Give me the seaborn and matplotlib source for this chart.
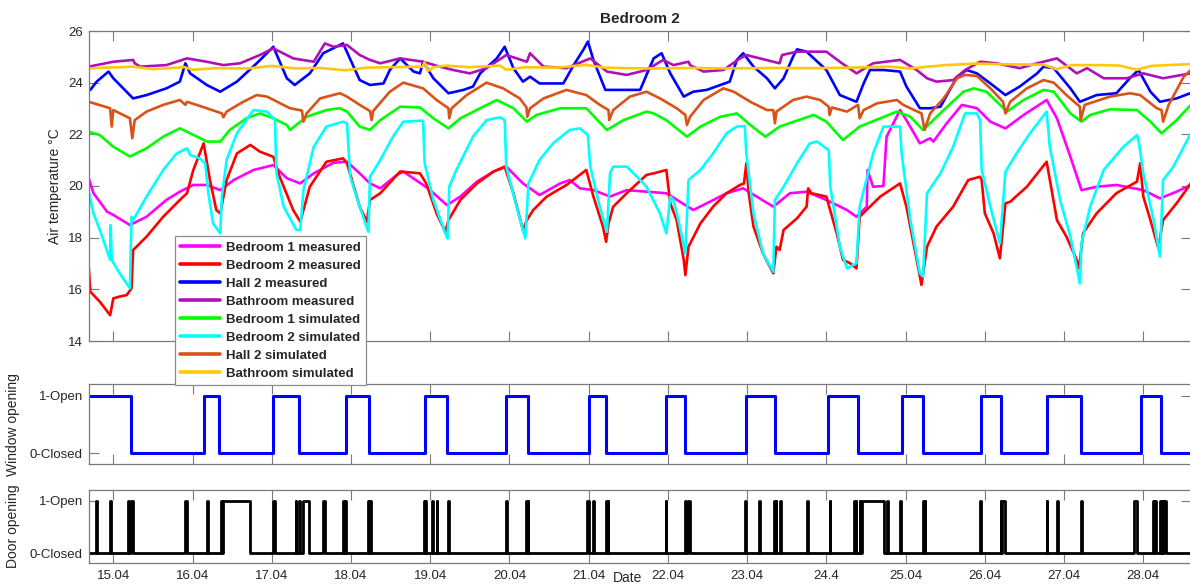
import matplotlib
matplotlib.use("Agg")
import matplotlib.pyplot as plt
import pandas as pd
import seaborn as sns

# ---------------------------------------------------------------------------
# Air temperatures, (day of April, deg C)
# ---------------------------------------------------------------------------
bedroom1_measured = [
    (14.69, 20.30), (14.75, 19.72), (14.92, 19.01), (15.00, 18.88), (15.21, 18.49),
    (15.42, 18.81), (15.67, 19.46), (15.84, 19.78), (16.01, 20.04), (16.18, 20.04),
    (16.35, 19.84), (16.52, 20.23), (16.77, 20.62), (17.02, 20.81), (17.19, 20.30),
    (17.36, 20.10), (17.53, 20.49), (17.78, 20.90), (17.95, 20.94), (18.11, 20.49),
    (18.24, 20.10), (18.37, 19.91), (18.58, 20.43), (18.66, 20.56), (18.91, 20.04),
    (19.00, 19.84), (19.21, 19.26), (19.38, 19.59), (19.59, 20.17), (19.80, 20.56),
    (19.96, 20.75), (20.17, 20.10), (20.38, 19.65), (20.64, 20.10), (20.76, 20.23),
    (20.89, 19.91), (21.06, 19.84), (21.27, 19.59), (21.48, 19.84), (21.73, 19.78),
    (21.98, 19.72), (22.32, 19.07), (22.49, 19.33), (22.74, 19.72), (22.95, 19.91),
    (23.12, 19.59), (23.33, 19.20), (23.54, 19.72), (23.75, 19.78), (24.00, 19.46),
    (24.26, 19.07), (24.38, 18.81), (24.51, 19.20), (24.52, 20.62), (24.59, 19.97),
    (24.72, 20.00), (24.76, 21.91), (24.93, 22.94), (25.01, 22.55), (25.18, 21.65),
    (25.31, 21.85), (25.35, 21.72), (25.52, 22.43), (25.71, 23.14), (25.90, 23.01),
    (26.07, 22.49), (26.26, 22.23), (26.49, 22.75), (26.78, 23.33), (26.91, 22.62),
    (27.08, 21.13), (27.22, 19.84), (27.41, 19.97), (27.66, 20.04), (28.00, 19.84),
    (28.21, 19.52), (28.42, 19.78), (28.60, 20.04),
]

bedroom2_measured = [
    (14.69, 16.88), (14.71, 15.91), (14.83, 15.52), (14.96, 15.00), (15.00, 15.65),
    (15.08, 15.72), (15.17, 15.78), (15.23, 16.04), (15.25, 17.52), (15.42, 18.04),
    (15.63, 18.81), (15.84, 19.46), (15.93, 19.72), (16.01, 20.62), (16.14, 21.65),
    (16.22, 20.23), (16.30, 19.07), (16.35, 18.94), (16.43, 20.23), (16.56, 21.26),
    (16.73, 21.59), (16.85, 21.33), (17.02, 21.13), (17.10, 20.36), (17.27, 19.07),
    (17.36, 18.62), (17.48, 19.97), (17.69, 20.94), (17.90, 21.07), (17.95, 20.88),
    (18.11, 19.20), (18.20, 18.62), (18.24, 19.46), (18.37, 19.72), (18.62, 20.56),
    (18.87, 20.49), (18.95, 20.10), (19.08, 18.94), (19.19, 18.23), (19.23, 18.68),
    (19.38, 19.46), (19.59, 20.10), (19.80, 20.56), (19.94, 20.75), (20.05, 19.72),
    (20.17, 18.30), (20.22, 18.68), (20.30, 19.07), (20.47, 19.59), (20.72, 20.04),
    (20.97, 20.62), (21.06, 19.59), (21.18, 18.43), (21.22, 17.84), (21.25, 18.55),
    (21.31, 19.20), (21.48, 19.72), (21.73, 20.43), (21.82, 20.49), (21.98, 20.62),
    (22.03, 19.33), (22.11, 18.68), (22.20, 17.14), (22.22, 16.55), (22.26, 17.65),
    (22.41, 18.55), (22.57, 19.20), (22.74, 19.72), (22.91, 20.04), (22.96, 20.10),
    (22.99, 20.88), (23.02, 19.72), (23.08, 18.43), (23.20, 17.39), (23.33, 16.62),
    (23.37, 17.65), (23.41, 17.52), (23.46, 18.30), (23.63, 18.75), (23.75, 19.20),
    (23.77, 19.91), (23.81, 19.72), (24.00, 19.59), (24.13, 18.17), (24.21, 17.14),
    (24.30, 17.01), (24.38, 16.81), (24.42, 18.81), (24.55, 19.20), (24.68, 19.59),
    (24.93, 20.10), (25.01, 19.20), (25.14, 17.14), (25.20, 16.17), (25.27, 17.65),
    (25.39, 18.43), (25.60, 19.20), (25.79, 20.23), (25.94, 20.36), (25.96, 20.23),
    (26.00, 18.94), (26.11, 18.17), (26.19, 17.20), (26.26, 19.33), (26.32, 19.39),
    (26.53, 19.97), (26.78, 20.94), (26.91, 18.68), (27.03, 18.04), (27.16, 17.14),
    (27.19, 16.81), (27.24, 18.17), (27.41, 18.94), (27.66, 19.72), (27.92, 20.17),
    (27.96, 20.88), (28.00, 19.59), (28.09, 18.68), (28.19, 17.59), (28.25, 18.68),
    (28.42, 19.33), (28.60, 20.10),
]

hall2_measured = [
    (14.69, 23.78), (14.71, 23.72), (14.79, 24.04), (14.94, 24.43), (15.00, 24.17),
    (15.25, 23.39), (15.42, 23.52), (15.67, 23.78), (15.84, 24.04), (15.91, 24.75),
    (15.97, 24.36), (16.18, 23.91), (16.35, 23.65), (16.56, 24.04), (16.81, 24.75),
    (17.02, 25.39), (17.19, 24.17), (17.29, 23.91), (17.48, 24.36), (17.65, 25.14),
    (17.90, 25.52), (18.11, 24.10), (18.24, 23.91), (18.41, 23.97), (18.49, 24.49),
    (18.62, 24.94), (18.79, 24.43), (18.87, 24.36), (18.91, 24.81), (19.04, 24.17),
    (19.23, 23.59), (19.42, 23.72), (19.54, 23.85), (19.63, 24.36), (19.84, 24.94),
    (19.94, 25.39), (20.05, 24.56), (20.17, 24.04), (20.26, 24.23), (20.38, 23.97),
    (20.68, 23.97), (20.81, 24.68), (20.93, 25.26), (20.99, 25.59), (21.06, 24.88),
    (21.21, 23.72), (21.39, 23.72), (21.61, 23.72), (21.65, 23.72), (21.73, 24.30),
    (21.82, 24.94), (21.92, 25.14), (22.03, 24.36), (22.20, 23.46), (22.32, 23.65),
    (22.49, 23.72), (22.78, 24.04), (22.87, 24.88), (22.95, 25.14), (23.08, 24.62),
    (23.25, 24.17), (23.35, 23.78), (23.46, 24.17), (23.58, 25.01), (23.63, 25.29),
    (23.75, 25.20), (24.00, 24.49), (24.17, 23.52), (24.38, 23.26), (24.47, 23.97),
    (24.55, 24.49), (24.72, 24.49), (24.93, 24.43), (25.01, 23.85), (25.18, 23.01),
    (25.31, 23.01), (25.44, 23.07), (25.65, 24.23), (25.77, 24.49), (25.90, 24.36),
    (26.07, 23.97), (26.26, 23.52), (26.44, 23.85), (26.66, 24.36), (26.74, 24.62),
    (26.87, 24.56), (27.08, 23.78), (27.20, 23.26), (27.41, 23.52), (27.66, 23.59),
    (27.83, 24.17), (27.94, 24.49), (28.09, 23.65), (28.21, 23.26), (28.42, 23.39),
    (28.60, 23.60),
]

bathroom_measured = [
    (14.69, 24.62), (15.00, 24.81), (15.25, 24.88), (15.27, 24.75), (15.34, 24.62),
    (15.67, 24.68), (15.93, 24.94), (16.18, 24.81), (16.39, 24.68), (16.60, 24.75),
    (16.85, 25.07), (17.02, 25.33), (17.27, 24.94), (17.53, 24.81), (17.67, 25.52),
    (17.78, 25.39), (17.95, 25.46), (18.11, 25.07), (18.24, 24.88), (18.37, 24.75),
    (18.62, 24.94), (18.91, 24.81), (19.12, 24.62), (19.29, 24.49), (19.50, 24.36),
    (19.71, 24.56), (19.96, 25.07), (20.22, 24.81), (20.26, 25.14), (20.43, 24.62),
    (20.72, 24.56), (21.02, 24.94), (21.23, 24.43), (21.48, 24.30), (21.73, 24.49),
    (21.94, 24.88), (22.07, 24.68), (22.26, 24.81), (22.28, 24.68), (22.45, 24.43),
    (22.70, 24.49), (22.91, 24.94), (22.99, 25.07), (23.41, 24.75), (23.44, 25.07),
    (23.63, 25.20), (24.00, 25.20), (24.17, 24.81), (24.38, 24.36), (24.59, 24.75),
    (24.93, 24.88), (25.14, 24.49), (25.27, 24.17), (25.39, 24.04), (25.60, 24.10),
    (25.75, 24.49), (25.94, 24.81), (26.15, 24.75), (26.44, 24.56), (26.66, 24.75),
    (26.91, 24.94), (27.16, 24.36), (27.29, 24.56), (27.50, 24.17), (27.79, 24.17),
    (28.00, 24.36), (28.25, 24.17), (28.60, 24.36),
]

bedroom1_simulated = [
    (14.69, 22.10), (14.83, 21.97), (15.00, 21.52), (15.21, 21.14), (15.42, 21.46),
    (15.63, 21.91), (15.84, 22.23), (15.93, 22.10), (16.18, 21.72), (16.35, 21.72),
    (16.47, 22.17), (16.68, 22.62), (16.85, 22.81), (17.02, 22.62), (17.19, 22.36),
    (17.23, 22.17), (17.44, 22.68), (17.69, 22.94), (17.86, 23.01), (17.95, 22.88),
    (18.11, 22.30), (18.24, 22.17), (18.37, 22.55), (18.62, 23.07), (18.87, 23.04),
    (19.04, 22.62), (19.23, 22.23), (19.38, 22.62), (19.63, 23.01), (19.84, 23.33),
    (20.05, 23.01), (20.22, 22.49), (20.34, 22.75), (20.64, 23.01), (20.97, 23.01),
    (21.23, 22.17), (21.44, 22.55), (21.73, 22.88), (21.82, 22.81), (21.98, 22.55),
    (22.24, 21.91), (22.41, 22.30), (22.66, 22.68), (22.87, 22.81), (23.04, 22.36),
    (23.23, 21.91), (23.41, 22.30), (23.84, 22.75), (24.00, 22.49), (24.21, 21.78),
    (24.42, 22.30), (24.68, 22.62), (24.89, 22.88), (25.06, 22.68), (25.22, 22.17),
    (25.48, 22.94), (25.73, 23.65), (25.86, 23.78), (26.02, 23.65), (26.28, 22.88),
    (26.49, 23.33), (26.74, 23.72), (26.87, 23.65), (27.08, 22.81), (27.22, 22.49),
    (27.33, 22.75), (27.58, 22.97), (27.92, 22.94), (28.09, 22.49), (28.23, 22.04),
    (28.42, 22.55), (28.60, 23.14),
]

bedroom2_simulated = [
    (14.69, 19.78), (14.75, 18.94), (14.83, 18.30), (14.96, 17.14), (14.967, 18.49),
    (14.98, 17.14), (15.08, 16.62), (15.21, 16.04), (15.23, 18.81), (15.25, 18.68),
    (15.42, 19.59), (15.63, 20.62), (15.80, 21.26), (15.93, 21.46), (15.97, 21.20),
    (16.09, 21.07), (16.16, 20.88), (16.20, 19.72), (16.26, 18.55), (16.35, 18.17),
    (16.37, 19.59), (16.43, 21.01), (16.56, 22.04), (16.77, 22.94), (16.94, 22.88),
    (17.04, 22.55), (17.06, 20.49), (17.15, 19.20), (17.31, 18.30), (17.36, 18.30),
    (17.40, 19.84), (17.53, 21.52), (17.69, 22.30), (17.90, 22.49), (17.95, 22.43),
    (17.99, 20.36), (18.11, 19.20), (18.22, 18.23), (18.24, 20.36), (18.37, 21.01),
    (18.53, 21.91), (18.66, 22.49), (18.91, 22.53), (18.93, 20.88), (19.04, 19.46),
    (19.19, 18.17), (19.22, 17.97), (19.24, 19.97), (19.33, 20.62), (19.54, 21.91),
    (19.71, 22.55), (19.88, 22.66), (19.94, 22.55), (19.96, 20.75), (20.09, 19.20),
    (20.20, 17.97), (20.24, 20.10), (20.38, 21.01), (20.55, 21.65), (20.76, 22.17),
    (20.89, 22.23), (20.99, 21.97), (21.02, 20.75), (21.14, 19.20), (21.23, 18.23),
    (21.27, 20.49), (21.31, 20.75), (21.48, 20.75), (21.61, 20.36), (21.73, 19.97),
    (21.77, 19.72), (21.90, 18.94), (21.98, 18.17), (22.03, 19.59), (22.07, 19.46),
    (22.15, 18.43), (22.22, 17.39), (22.26, 20.23), (22.41, 20.62), (22.57, 21.26),
    (22.74, 22.04), (22.87, 22.30), (22.97, 22.32), (22.99, 21.26), (23.08, 18.94),
    (23.20, 17.39), (23.33, 16.68), (23.35, 19.46), (23.46, 19.97), (23.63, 20.88),
    (23.79, 21.65), (23.88, 21.72), (24.03, 21.39), (24.05, 19.97), (24.17, 17.65),
    (24.26, 16.81), (24.38, 17.01), (24.42, 19.20), (24.59, 21.26), (24.72, 22.30),
    (24.93, 22.30), (24.95, 21.26), (25.06, 18.68), (25.18, 16.62), (25.22, 16.49),
    (25.27, 19.72), (25.44, 20.49), (25.60, 21.52), (25.75, 22.81), (25.90, 22.81),
    (25.94, 22.55), (25.96, 20.62), (26.07, 19.20), (26.19, 17.78), (26.26, 20.55),
    (26.40, 21.26), (26.57, 22.04), (26.78, 22.88), (26.82, 21.52), (26.95, 19.46),
    (27.08, 18.04), (27.20, 16.23), (27.22, 17.78), (27.33, 19.20), (27.50, 20.62),
    (27.75, 21.52), (27.92, 21.97), (27.94, 21.78), (28.00, 20.49), (28.13, 18.68),
    (28.21, 17.27), (28.25, 20.23), (28.38, 20.75), (28.60, 22.04),
]

hall2_simulated = [
    (14.69, 23.26), (14.96, 23.01), (14.98, 22.30), (15.00, 22.94), (15.21, 22.62),
    (15.24, 21.85), (15.27, 22.55), (15.42, 22.88), (15.63, 23.14), (15.84, 23.33),
    (15.91, 23.14), (15.93, 23.26), (16.18, 23.01), (16.37, 22.81), (16.39, 22.66),
    (16.43, 22.88), (16.64, 23.26), (16.81, 23.52), (16.94, 23.46), (17.23, 23.01),
    (17.38, 22.92), (17.40, 22.49), (17.44, 22.81), (17.61, 23.39), (17.86, 23.59),
    (17.95, 23.46), (18.11, 23.14), (18.24, 22.90), (18.26, 22.55), (18.28, 22.90),
    (18.49, 23.65), (18.66, 24.00), (18.91, 23.78), (19.08, 23.33), (19.23, 23.01),
    (19.24, 22.62), (19.27, 23.01), (19.46, 23.52), (19.71, 24.00), (19.92, 23.78),
    (20.13, 23.39), (20.215, 23.04), (20.225, 22.68), (20.26, 23.01), (20.43, 23.39),
    (20.72, 23.72), (20.97, 23.52), (21.14, 23.14), (21.25, 22.94), (21.26, 22.55),
    (21.31, 22.94), (21.52, 23.46), (21.73, 23.65), (21.90, 23.39), (22.11, 23.01),
    (22.22, 22.75), (22.24, 22.36), (22.28, 22.68), (22.45, 23.33), (22.70, 23.78),
    (22.83, 23.65), (23.04, 23.26), (23.25, 22.94), (23.33, 22.94), (23.35, 22.43),
    (23.37, 22.88), (23.58, 23.33), (23.75, 23.46), (23.92, 23.33), (24.03, 23.07),
    (24.04, 22.75), (24.07, 23.04), (24.26, 22.88), (24.40, 23.14), (24.42, 22.62),
    (24.47, 22.94), (24.64, 23.20), (24.89, 23.33), (24.97, 23.14), (25.20, 22.81),
    (25.24, 22.17), (25.31, 22.81), (25.48, 23.39), (25.65, 24.17), (25.75, 24.30),
    (25.90, 24.26), (26.07, 23.78), (26.23, 23.26), (26.26, 22.81), (26.32, 23.26),
    (26.53, 23.78), (26.74, 24.10), (26.87, 24.00), (27.03, 23.52), (27.20, 23.07),
    (27.21, 22.55), (27.26, 23.14), (27.58, 23.46), (27.83, 23.59), (27.96, 23.52),
    (28.17, 23.01), (28.23, 22.94), (28.25, 22.49), (28.32, 23.14), (28.51, 24.23),
    (28.60, 24.49),
]

bathroom_simulated = [
    (14.69, 24.55), (14.90, 24.58), (15.25, 24.62), (15.50, 24.52), (15.90, 24.60),
    (16.00, 24.50), (16.30, 24.56), (16.70, 24.55), (17.00, 24.65), (17.30, 24.55),
    (17.60, 24.57), (17.93, 24.48), (18.20, 24.58), (18.50, 24.60), (18.90, 24.62),
    (18.93, 24.79), (18.97, 24.45), (19.05, 24.60), (19.20, 24.66), (19.50, 24.60),
    (19.88, 24.66), (19.96, 24.50), (20.20, 24.60), (20.60, 24.58), (20.97, 24.69),
    (21.20, 24.58), (21.50, 24.56), (21.80, 24.55), (22.30, 24.57), (22.80, 24.55),
    (23.30, 24.57), (23.80, 24.56), (24.30, 24.58), (24.80, 24.62), (25.05, 24.55),
    (25.50, 24.68), (25.90, 24.74), (26.10, 24.72), (26.50, 24.70), (26.74, 24.70),
    (26.90, 24.52), (27.10, 24.68), (27.50, 24.68), (27.70, 24.66), (27.92, 24.50),
    (28.10, 24.65), (28.30, 24.68), (28.60, 24.72),
]

# Opening periods, (open from, open until) in days of April
window_open = [
    (14.60, 15.22), (16.15, 16.34), (17.02, 17.35), (17.94, 18.23), (18.93, 19.21),
    (19.96, 20.23), (21.00, 21.22), (21.97, 22.21), (22.98, 23.35), (24.02, 24.40),
    (24.95, 25.22), (25.95, 26.20), (26.79, 27.21), (27.97, 28.22),
]

door_open = [
    (14.78, 14.80), (14.96, 14.97), (15.18, 15.20), (15.22, 15.25), (15.91, 15.93),
    (16.18, 16.19), (16.36, 16.37), (16.38, 16.73), (17.02, 17.04), (17.30, 17.31),
    (17.35, 17.36), (17.40, 17.47), (17.65, 17.67), (17.90, 17.91), (17.92, 17.94),
    (18.22, 18.23), (18.24, 18.25), (18.92, 18.93), (18.94, 18.95), (19.02, 19.03),
    (19.08, 19.09), (19.22, 19.24), (19.96, 19.97), (20.21, 20.22), (20.23, 20.24),
    (20.98, 21.00), (21.06, 21.07), (21.22, 21.23), (21.24, 21.25), (21.97, 21.98),
    (22.22, 22.23), (22.25, 22.28), (22.97, 22.98), (23.15, 23.16), (23.34, 23.35),
    (23.36, 23.37), (23.42, 23.43), (23.76, 23.77), (24.04, 24.05), (24.35, 24.36),
    (24.37, 24.38), (24.42, 24.43), (24.45, 24.73), (24.77, 24.78), (24.93, 24.94),
    (25.22, 25.23), (25.24, 25.25), (25.94, 25.95), (26.20, 26.21), (26.22, 26.26),
    (26.78, 26.79), (26.91, 26.92), (27.21, 27.22), (27.88, 27.92), (28.12, 28.13),
    (28.14, 28.16), (28.21, 28.22), (28.23, 28.25), (28.26, 28.29),
]

tick_days = list(range(15, 29))
tick_labels = ["15.04", "16.04", "17.04", "18.04", "19.04", "20.04", "21.04",
               "22.04", "23.04", "24.4", "25.04", "26.04", "27.04", "28.04"]
state_labels = ["0-Closed", "1-Open"]

series = [
    ("Bedroom 1 measured", bedroom1_measured, "#ff00ff"),
    ("Bedroom 2 measured", bedroom2_measured, "#ff0000"),
    ("Hall 2 measured", hall2_measured, "#0000ff"),
    ("Bathroom measured", bathroom_measured, "#b010b8"),
    ("Bedroom 1 simulated", bedroom1_simulated, "#00ff00"),
    ("Bedroom 2 simulated", bedroom2_simulated, "#00ffff"),
    ("Hall 2 simulated", hall2_simulated, "#d95319"),
    ("Bathroom simulated", bathroom_simulated, "#ffc80a"),
]

# ---------------------------------------------------------------------------
# Style
# ---------------------------------------------------------------------------
sns.set_style("ticks")
plt.rcParams["font.family"] = ["Liberation Sans", "DejaVu Sans"]
TEXT = "#262626"
FRAME = "#7a7a7a"

W, H = 1190, 587
fig = plt.figure(figsize=(W / 100, H / 100), dpi=100)


def axes_px(left, top, right, bottom):
    return fig.add_axes([left / W, 1 - bottom / H, (right - left) / W, (bottom - top) / H])


ax_t = axes_px(88.5, 31, 1191, 341)
ax_w = axes_px(88.5, 384.3, 1191, 464)
ax_d = axes_px(88.5, 490, 1191, 563.3)
# the legend of the temperature panel hangs down to the window panel
ax_t.set_zorder(3)

XMIN, XMAX = 14.687, 28.602


def frame(ax, show_xlabels):
    ax.set_xlim(XMIN, XMAX)
    ax.set_xticks(tick_days)
    ax.set_xticklabels(tick_labels if show_xlabels else [])
    ax.tick_params(which="both", direction="in", length=7, width=0.8,
                   top=True, right=True, color=FRAME, labelcolor=TEXT,
                   labelsize=9.5)
    ax.tick_params(axis="x", pad=5, labelbottom=show_xlabels)
    ax.tick_params(axis="y", pad=4)
    for sp in ax.spines.values():
        sp.set_color(FRAME)
        sp.set_linewidth(0.9)
        sp.set_visible(True)
    ax.set_xlabel("")


def open_close_track(intervals, t_start=14.5, t_end=29.0):
    days, state = [t_start], [0]
    for a, b in intervals:
        days += [a, b]
        state += [1, 0]
    days.append(t_end)
    state.append(0)
    return pd.DataFrame({"day": days, "state": state})


# ---------------------------------------------------------------------------
# Temperature panel
# ---------------------------------------------------------------------------
for name, pts, color in series:
    df = pd.DataFrame(pts, columns=["day", "temp"])
    sns.lineplot(data=df, x="day", y="temp", ax=ax_t, color=color, lw=1.9,
                 label=name, sort=False, estimator=None)

frame(ax_t, False)
ax_t.set_ylim(14, 26)
ax_t.set_yticks(range(14, 27, 2))
ax_t.set_ylabel("Air temperature \u00b0C", fontsize=10, color=TEXT)
ax_t.yaxis.set_label_coords(-0.024, 0.5)
ax_t.set_title("Bedroom 2", fontsize=11, fontweight="bold", color=TEXT, pad=6)

handles, labels = ax_t.get_legend_handles_labels()
leg = ax_t.legend(handles, labels, loc="upper left", bbox_to_anchor=(0.0785, 0.3387),
                  borderaxespad=0, frameon=True, fancybox=False, framealpha=1,
                  edgecolor="#8c8c8c", prop={"weight": "bold", "size": 9.5},
                  handlelength=3.0, handletextpad=0.45, labelspacing=0.44,
                  borderpad=0.4)
leg.get_frame().set_linewidth(0.9)
leg.set_zorder(10)
for line in leg.get_lines():
    line.set_linewidth(2.6)

# ---------------------------------------------------------------------------
# Window and door panels
# ---------------------------------------------------------------------------
sns.lineplot(data=open_close_track(window_open), x="day", y="state", ax=ax_w,
             color="#0000ff", lw=2.2, drawstyle="steps-post", sort=False,
             estimator=None)
sns.lineplot(data=open_close_track(door_open), x="day", y="state", ax=ax_d,
             color="#000000", lw=2.0, drawstyle="steps-post", sort=False,
             estimator=None)

for ax, label, show in [(ax_w, "Window opening", False), (ax_d, "Door opening", True)]:
    frame(ax, show)
    ax.set_ylim(-0.19, 1.2)
    ax.set_yticks([0, 1])
    ax.set_yticklabels(state_labels)
    ax.set_ylabel(label, fontsize=10, color=TEXT)
    ax.yaxis.set_label_coords(-0.062, 0.5)

ax_d.set_xlabel("Date", fontsize=10, color=TEXT)
ax_d.xaxis.set_label_coords(0.489, -0.1)

fig.savefig("out.png", dpi=100)
